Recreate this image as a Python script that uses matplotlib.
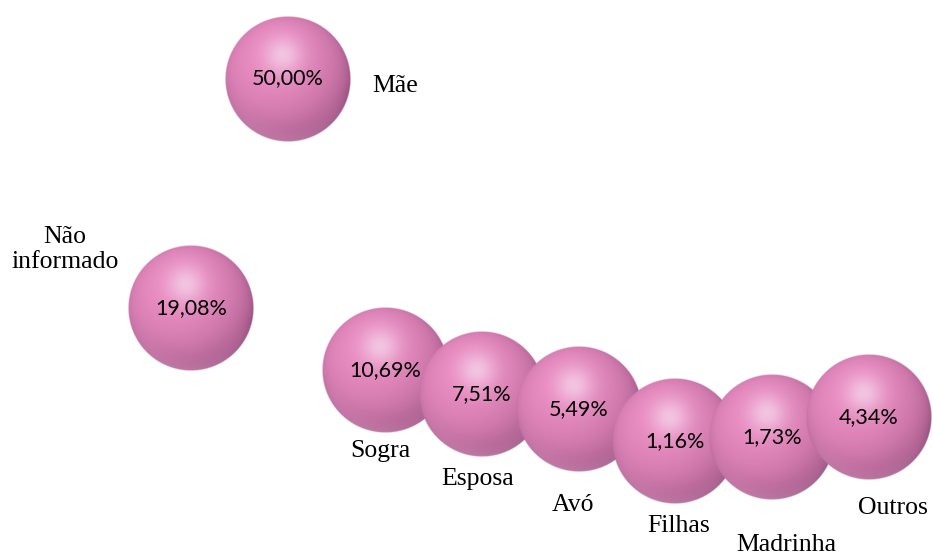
import numpy as np
import matplotlib
matplotlib.use("Agg")
import matplotlib.pyplot as plt

# Grau de parentesco da cuidadora (%)
categorias = ["Não\ninformado", "Mãe", "Sogra", "Esposa", "Avó", "Filhas", "Madrinha", "Outros"]
valores = [19.08, 50.00, 10.69, 7.51, 5.49, 1.16, 1.73, 4.34]
rotulos_valor = ["19,08%", "50,00%", "10,69%", "7,51%", "5,49%", "1,16%", "1,73%", "4,34%"]

# Deslocamento (pt) de cada nome em relação ao centro da esfera
desloc_nome = [(-91, 42), (77, -5), (-3, -58), (-3, -61), (-4, -69), (2, -61), (10, -78), (17, -65)]

W, H, DPI = 933, 557, 100
fig = plt.figure(figsize=(W / DPI, H / DPI), dpi=DPI)
ax = fig.add_axes([0, 0, 1, 1])
ax.set_xlim(-0.976, 8.660)
ax.set_ylim(-14.49, 60.59)
ax.axis("off")


def esfera(n=256):
    """Imagem RGBA de uma esfera rosa sombreada."""
    t = np.linspace(-1, 1, n)
    u, v = np.meshgrid(t, -t)
    r = np.sqrt(u ** 2 + v ** 2)
    w = np.sqrt(np.clip(1 - r ** 2, 0, 1))
    L = np.array([-0.28, 0.40, 0.87])
    L = L / np.linalg.norm(L)
    k = 0.5
    diff = np.clip((u * L[0] + v * L[1] + w * L[2] + k) / (1 + k), 0, 1) ** 0.55

    escuro = np.array([96, 40, 80]) / 255
    base = np.array([234, 140, 194]) / 255
    col = escuro + (base - escuro) * diff[..., None]

    # brilho especular largo
    spec = np.exp(-((u + 0.08) ** 2 + (v - 0.38) ** 2) / 0.09)[..., None]
    branco = np.array([246, 218, 238]) / 255
    col = col + (branco - col) * 0.72 * spec

    # reflexo claro na borda inferior
    rim = (np.clip((r - 0.72) / 0.28, 0, 1) ** 1.3 * np.clip(-v - 0.2, 0, 1) ** 1.0)[..., None]
    claro = np.array([226, 160, 200]) / 255
    col = col + (claro - col) * 0.65 * rim

    col = np.clip(col, 0, 1)
    alpha = np.clip((1 - r) * n / 2.5, 0, 1)
    return np.dstack([col, alpha])


img = esfera()
raio_px = 63
dx = raio_px / (W / (8.660 + 0.976))
dy = raio_px / (H / (60.59 + 14.49))

for i, (val, txt) in enumerate(zip(valores, rotulos_valor)):
    x = i + 1
    ax.imshow(img, extent=(x - dx, x + dx, val - dy, val + dy),
              zorder=2 + i, interpolation="bilinear")
    ax.text(x, val, txt, ha="center", va="center", fontsize=15.5,
            family=["Lato", "DejaVu Sans"], color="black", zorder=20)

for i, (val, nome) in enumerate(zip(valores, categorias)):
    ax.annotate(nome, (i + 1, val), xytext=desloc_nome[i], textcoords="offset points",
                ha="center", va="center", fontsize=18.5, family="Liberation Serif",
                color="black", linespacing=1.15, zorder=20)

ax.set_aspect("auto")
fig.savefig("out.png", dpi=DPI, facecolor="white")
